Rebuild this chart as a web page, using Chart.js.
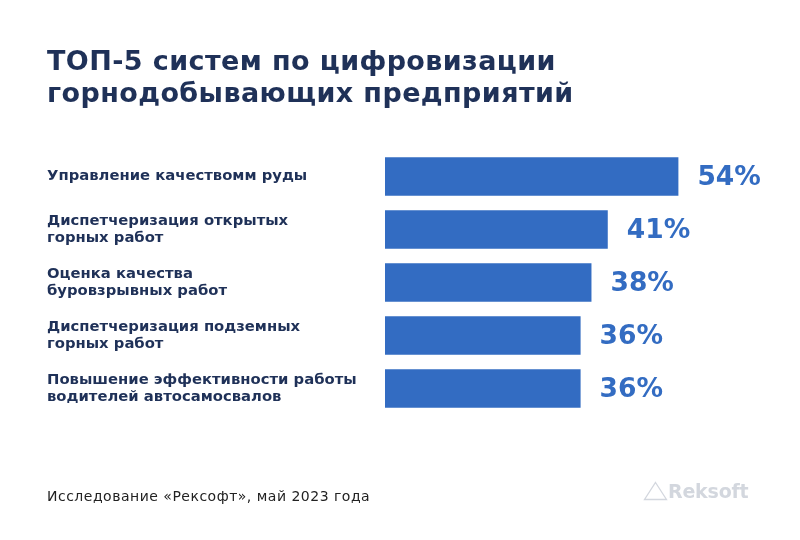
<!DOCTYPE html>
<html>
<head>
<meta charset="utf-8">
<script src="https://cdn.jsdelivr.net/npm/chart.js@4/dist/chart.umd.min.js"></script>
<style>
  html, body { margin: 0; padding: 0; background: #ffffff; }
  #wrap { position: relative; width: 800px; height: 540px; overflow: hidden; }
  #chart { position: absolute; left: 0; top: 0; }
  #title { position: absolute; left: 47px; top: 45px; margin: 0; font-family: "DejaVu Sans", sans-serif; font-weight: 700; font-size: 27px; line-height: 32px; letter-spacing: 0.4px; color: #1f3158; white-space: nowrap; }
  #source { position: absolute; left: 47px; top: 488px; font-family: "DejaVu Sans", sans-serif; font-size: 14px; line-height: 16px; letter-spacing: 0.5px; color: #222222; white-space: nowrap; }
  #logo { position: absolute; left: 643px; top: 480px; display: flex; align-items: center; font-family: "DejaVu Sans", sans-serif; font-weight: 700; font-size: 19px; color: #d3d7de; letter-spacing: -0.2px; }
</style>
</head>
<body>
<div id="wrap">
  <canvas id="chart" width="800" height="540"></canvas>
  <h1 id="title">ТОП-5 систем по цифровизации<br>горнодобывающих предприятий</h1>
  <div id="source">Исследование «Рексофт», май 2023 года</div>
  <div id="logo"><svg width="25" height="20" viewBox="0 0 25 20"><polygon points="12.5,1.5 23.5,18.5 1.5,18.5" fill="none" stroke="#d3d7de" stroke-width="1.3"/></svg><span>Reksoft</span></div>
</div>
<script>
const categories = [
  ["Управление качествомм руды"],
  ["Диспетчеризация открытых", "горных работ"],
  ["Оценка качества", "буровзрывных работ"],
  ["Диспетчеризация подземных", "горных работ"],
  ["Повышение эффективности работы", "водителей автосамосвалов"]
];
const values = [54, 41, 38, 36, 36];
const valueLabels = ["54%", "41%", "38%", "36%", "36%"];

const BAR_COLOR = "#336cc2";
const LABEL_COLOR = "#1f3158";

const valueLabelPlugin = {
  id: "valueLabels",
  afterDatasetsDraw(chart) {
    const ctx = chart.ctx;
    const meta = chart.getDatasetMeta(0);
    ctx.save();
    ctx.font = "700 26.5px 'DejaVu Sans', sans-serif";
    ctx.fillStyle = BAR_COLOR;
    ctx.textAlign = "left";
    ctx.textBaseline = "middle";
    meta.data.forEach((bar, i) => {
      ctx.fillText(valueLabels[i], bar.x + 19, bar.y + 2);
    });
    ctx.restore();
  }
};

new Chart(document.getElementById("chart"), {
  type: "bar",
  data: {
    labels: categories,
    datasets: [{
      data: values,
      backgroundColor: BAR_COLOR,
      borderWidth: 0,
      categoryPercentage: 1.0,
      barPercentage: 0.73
    }]
  },
  options: {
    indexAxis: "y",
    responsive: false,
    animation: false,
    maintainAspectRatio: false,
    layout: { padding: { left: 47, right: 89, top: 150, bottom: 125 } },
    plugins: { legend: { display: false }, tooltip: { enabled: false }, title: { display: false } },
    scales: {
      x: { display: false, min: 0, max: 60 },
      y: {
        grid: { display: false },
        border: { display: false },
        ticks: {
          crossAlign: "far",
          padding: 0,
          color: LABEL_COLOR,
          font: { family: "'DejaVu Sans', sans-serif", weight: "700", size: 14.8, lineHeight: 1.15 }
        },
        afterFit(scale) { scale.width = 338; }
      }
    }
  },
  plugins: [valueLabelPlugin]
});
</script>
</body>
</html>
